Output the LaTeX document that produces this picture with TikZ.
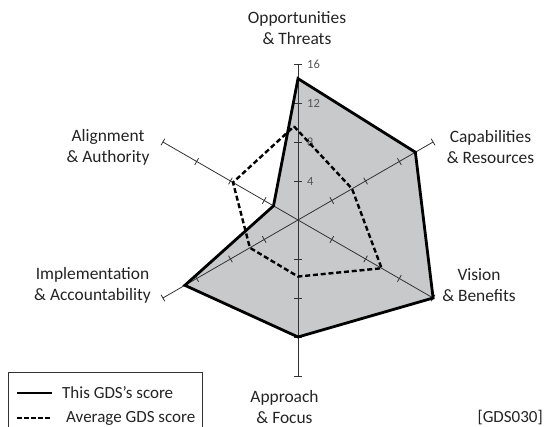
\documentclass[tikz,border=0pt]{standalone}
\usepackage{fontspec}
\setmainfont{Carlito}
\usetikzlibrary{positioning}
\definecolor{areagray}{RGB}{200,201,203}
\definecolor{axisgray}{RGB}{50,50,50}
\definecolor{textgray}{RGB}{35,35,35}
\definecolor{numgray}{RGB}{85,85,85}
\tikzset{
  axis/.style={draw=axisgray, line width=0.8pt},
  score/.style={draw=black, line width=2.8pt},
  average/.style={draw=black, line width=2.4pt, dash pattern=on 5pt off 2.8pt},
  axlabel/.style={font=\fontsize{17.4}{21}\selectfont, text=textgray, align=center, inner sep=0pt},
  number/.style={font=\fontsize{12.5}{14}\selectfont, text=numgray, anchor=west, inner sep=0pt},
  legtext/.style={font=\fontsize{17}{21}\selectfont, text=textgray, anchor=west, inner sep=0pt}
}

\begin{document}
\begin{tikzpicture}[x=1pt, y=1pt]
\useasboundingbox (0,0) rectangle (544,427);

\def\u{9.75}

\begin{scope}[shift={(298,207)}]
\coordinate (o) at (0,0);

% This GDS's score
\foreach \ang/\v/\name in {90/14.5/s1, 30/13.9/s2, -30/16/s3, -90/12/s4, -150/13.4/s5, 150/2.9/s6} {
  \coordinate (\name) at (\ang:{\v*\u});
}
% Average GDS score
\foreach \ang/\v/\name in {90/9.6/d1, 30/6.4/d2, -30/9.9/d3, -90/5.8/d4, -150/5.7/d5, 150/7.7/d6} {
  \coordinate (\name) at (\ang:{\v*\u});
}
\coordinate (d1) at ([xshift=-4pt]d1);

\fill[areagray] (s1) -- (s2) -- (s3) -- (s4) -- (s5) -- (s6) -- cycle;

% Axes and ticks
\foreach \ang/\name in {90/opp, 30/cap, -30/vis, -90/app, -150/imp, 150/ali} {
  \coordinate (\name) at (\ang:{16*\u});
  \draw[axis] (o) -- (\name);
  \foreach \v in {4,8,12,16} {
    \draw[axis, rotate=\ang] ({\v*\u},-3.8) -- ({\v*\u},3.8);
  }
}

\foreach \v in {4,8,12,16} {
  \node[number] (n\v) at (9,{\v*\u}) {\v};
}

\draw[score] (s1) -- (s2) -- (s3) -- (s4) -- (s5) -- (s6) -- cycle;
\draw[average] (d1) -- (d2) -- (d3) -- (d4) -- (d5) -- (d6) -- cycle;
\end{scope}

% Axis names
\node[axlabel] (lopp) at (297,398.5) {Opportunities\\\& Threats};
\node[axlabel] (lcap) at (490.5,280) {Capabilities\\\& Resources};
\node[axlabel] (lvis) at (479,142) {Vision\\\& Benefits};
\node[axlabel] (lapp) at (284.5,19.5) {Approach\\\& Focus};
\node[axlabel] (limp) at (92.5,142) {Implementation\\\& Accountability};
\node[axlabel] (lali) at (108,280) {Alignment\\\& Authority};

% Legend
\draw[line width=0.8pt, draw=axisgray] (8,-3) rectangle (202.7,54.3);
\coordinate (k1) at (17,34);
\coordinate (k2) at (17,9);
\draw[black, line width=2pt] (k1) -- ++(35,0) coordinate (k1e);
\draw[black, line width=2pt, dash pattern=on 4.5pt off 2.6pt] (k2) -- ++(35,0) coordinate (k2e);
\node[legtext, right=10pt of k1e] (t1) {This GDS’s score};
\node[legtext, right=14pt of k2e] (t2) {Average GDS score};

\node[legtext, anchor=east] (ref) at (543,9) {[GDS030]};

\end{tikzpicture}
\end{document}
